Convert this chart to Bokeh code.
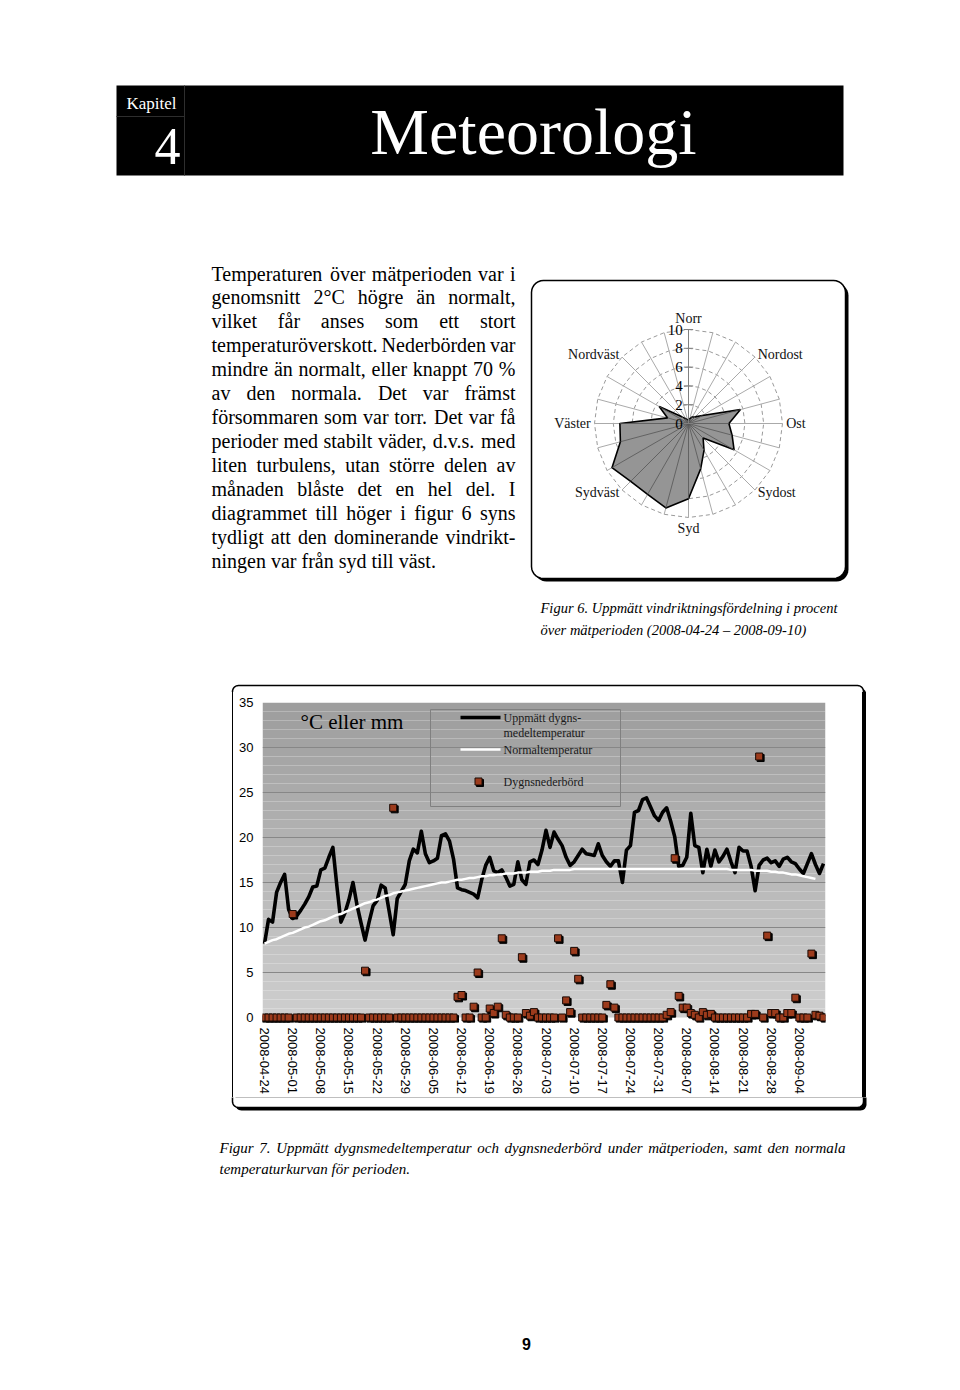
import numpy as np
import pandas as pd
from bokeh.plotting import figure
from bokeh.models import Range1d, FixedTicker, ColumnDataSource, Spacer, Div
from bokeh.layouts import row, column
from bokeh.core.properties import value
from bokeh.transform import dodge
from bokeh.embed import file_html
from bokeh.resources import INLINE

# ------------------------------------------------------------------ data
wind_dirs = ["Norr", "", "", "Nordost", "", "", "Ost", "", "", "Sydost", "", "",
             "Syd", "", "", "Sydväst", "", "", "Väster", "", "", "Nordväst", "", ""]
wind_pct = [0.3, 0.5, 0.8, 1.0, 1.7, 5.7, 4.3, 4.8, 5.6, 2.2, 3.3, 5.0,
            8.0, 9.3, 8.7, 8.7, 9.4, 7.5, 7.3, 2.3, 3.6, 1.0, 0.6, 0.4]
radar_ticks = [0, 2, 4, 6, 8, 10]

dates = [str(d.date()) for d in pd.date_range("2008-04-24", "2008-09-10")]
day = list(range(len(dates)))

temp_measured = [
    8.2, 10.9, 10.6, 13.9, 15.0, 15.9, 12.0, 11.0, 11.3, 11.9,
    12.6, 13.4, 14.5, 14.6, 16.4, 16.6, 17.8, 18.9, 14.6, 10.6,
    11.6, 13.1, 15.0, 12.5, 10.5, 8.6, 10.6, 12.4, 13.0, 14.7,
    14.4, 11.8, 9.2, 13.2, 14.0, 14.8, 17.4, 18.7, 18.3, 20.7,
    18.2, 17.2, 17.4, 17.7, 20.2, 20.4, 19.6, 17.6, 14.4, 14.2,
    14.1, 13.9, 13.7, 13.3, 15.3, 16.9, 17.8, 16.3, 16.1, 16.4,
    15.6, 14.6, 14.8, 17.3, 15.3, 14.8, 17.3, 17.5, 17.0, 18.6,
    20.8, 18.9, 20.6, 19.8, 19.1, 17.8, 16.9, 17.3, 18.0, 18.7,
    18.2, 18.1, 18.0, 19.3, 18.0, 17.3, 16.8, 17.4, 17.4, 15.0,
    18.6, 19.1, 22.8, 23.0, 24.2, 24.4, 23.4, 22.4, 21.9, 22.8,
    23.3, 21.8, 20.1, 16.8, 16.9, 17.8, 22.7, 19.1, 18.9, 16.1,
    18.7, 16.8, 18.6, 17.3, 17.9, 18.7, 17.3, 16.1, 18.9, 18.5,
    18.5, 16.8, 14.1, 16.9, 17.5, 17.7, 17.2, 17.4, 16.8, 17.6,
    17.8, 17.3, 17.1, 16.5, 16.0, 17.1, 18.2, 17.0, 16.0, 17.1]

temp_normal = [
    8.2, 8.4, 8.6, 8.7, 8.9, 9.1, 9.3, 9.4, 9.6, 9.8,
    10.0, 10.1, 10.3, 10.5, 10.7, 10.8, 11.0, 11.2, 11.4, 11.5,
    11.7, 11.9, 12.1, 12.3, 12.5, 12.7, 12.8, 13.0, 13.1, 13.3,
    13.5, 13.6, 13.8, 13.9, 14.0, 14.1, 14.2, 14.3, 14.4, 14.5,
    14.6, 14.7, 14.8, 14.9, 15.0, 15.0, 15.1, 15.2, 15.3, 15.3,
    15.4, 15.5, 15.5, 15.6, 15.7, 15.7, 15.8, 15.8, 15.9, 15.9,
    16.0, 16.0, 16.0, 16.1, 16.1, 16.1, 16.2, 16.2, 16.2, 16.3,
    16.3, 16.3, 16.4, 16.4, 16.4, 16.4, 16.4, 16.5, 16.5, 16.5,
    16.5, 16.5, 16.5, 16.5, 16.5, 16.5, 16.5, 16.5, 16.5, 16.5,
    16.5, 16.5, 16.5, 16.5, 16.5, 16.5, 16.5, 16.5, 16.5, 16.5,
    16.5, 16.5, 16.5, 16.5, 16.5, 16.5, 16.5, 16.5, 16.5, 16.5,
    16.5, 16.5, 16.5, 16.5, 16.5, 16.5, 16.4, 16.4, 16.4, 16.4,
    16.4, 16.4, 16.3, 16.3, 16.3, 16.3, 16.2, 16.2, 16.1, 16.1,
    16.0, 15.9, 15.9, 15.8, 15.7, 15.6, 15.5, 15.4, float("nan"), float("nan")]

precip = [
    0, 0, 0, 0, 0, 0, 0, 11.5, 0, 0,
    0, 0, 0, 0, 0, 0, 0, 0, 0, 0,
    0, 0, 0, 0, 0, 5.2, 0, 0, 0, 0,
    0, 0, 23.3, 0, 0, 0, 0, 0, 0, 0,
    0, 0, 0, 0, 0, 0, 0, 0, 2.3, 2.5,
    0, 0, 1.2, 5.0, 0, 0, 1.0, 0.5, 1.2, 8.8,
    0.3, 0, 0, 0, 6.7, 0.5, 0.2, 0.6, 0, 0,
    0, 0, 0, 8.8, 0, 1.9, 0.6, 7.4, 4.3, 0,
    0, 0, 0, 0, 0, 1.4, 3.7, 1.1, 0, 0,
    0, 0, 0, 0, 0, 0, 0, 0, 0, 0,
    0.3, 0.6, 17.7, 2.4, 1.1, 1.1, 0.5, 0.3, 0, 0.6,
    0.3, 0.4, 0, 0, 0, 0, 0, 0, 0, 0,
    0, 0.4, 0.4, 29.0, 0, 9.1, 0.5, 0.5, 0, 0,
    0.5, 0.5, 2.2, 0, 0, 0, 7.1, 0.3, 0.2, 0]

tick_days = day[::7]
tick_labels = dates[::7]
y_ticks = [0, 5, 10, 15, 20, 25, 30, 35]

paragraph = [
    "Temperaturen över mätperioden var i",
    "genomsnitt 2°C högre än normalt,",
    "vilket får anses som ett stort",
    "temperaturöverskott. Nederbörden var",
    "mindre än normalt, eller knappt 70 %",
    "av den normala. Det var främst",
    "försommaren som var torr. Det var få",
    "perioder med stabilt väder, d.v.s. med",
    "liten turbulens, utan större delen av",
    "månaden blåste det en hel del. I",
    "diagrammet till höger i figur 6 syns",
    "tydligt att den dominerande vindrikt-",
    "ningen var från syd till väst.",
]
caption6 = ["Figur 6. Uppmätt vindriktningsfördelning i procent",
            "över mätperioden (2008-04-24  –  2008-09-10)"]
caption7 = ["Figur 7. Uppmätt dygnsmedeltemperatur och dygnsnederbörd under mätperioden, samt den normala",
            "temperaturkurvan för perioden."]

# ------------------------------------------------------------------ helpers
SERIF = "Liberation Serif"
SANS = "Liberation Sans"

ROMAN = {" ": 250, ",": 250, ".": 250, "-": 333, "%": 833, "(": 333, ")": 333, "°": 400, "–": 500,
         "A": 722, "B": 667, "C": 667, "D": 722, "E": 611, "F": 556, "G": 722, "H": 722, "I": 333,
         "J": 389, "K": 722, "L": 611, "M": 889, "N": 722, "O": 722, "P": 556, "R": 667, "S": 556,
         "T": 611, "U": 722, "V": 722, "W": 944,
         "a": 444, "b": 500, "c": 444, "d": 500, "e": 444, "f": 333, "g": 500, "h": 500, "i": 278,
         "j": 278, "k": 500, "l": 278, "m": 778, "n": 500, "o": 500, "p": 500, "q": 500, "r": 333,
         "s": 389, "t": 278, "u": 500, "v": 500, "w": 722, "x": 500, "y": 500, "z": 444,
         "å": 444, "ä": 444, "ö": 500}
ITALIC = dict(ROMAN)
ITALIC.update({"a": 500, "f": 278, "k": 444, "m": 722, "r": 389, "v": 444, "w": 667, "x": 444,
               "y": 444, "z": 389, "ä": 500, "å": 500, "F": 611, "T": 556})


def text_w(s, fs, table):
    return sum(table.get(c, 500) for c in s) * fs / 1000.0


def page_fig(x0, x1, y0, y1):
    p = figure(width=x1 - x0, height=y1 - y0, x_range=Range1d(x0, x1), y_range=Range1d(y1, y0),
               x_axis_type=None, y_axis_type=None, toolbar_location=None,
               output_backend="svg", min_border=0)
    p.outline_line_color = None
    p.background_fill_color = "white"
    p.border_fill_color = "white"
    return p


def put(p, x, y, s, fs, font=SERIF, style="normal", align="left", baseline="middle", color="black"):
    p.text(x=[x], y=[y], text=[s], text_font=value(font), text_font_size=f"{fs}px",
           text_font_style=style, text_align=align, text_baseline=baseline, text_color=color)


def justified(p, line, x0, x1, y, fs, table, style="normal"):
    words = line.split()
    ws = np.array([text_w(w, fs, table) for w in words])
    gap = (x1 - x0 - ws.sum()) / (len(words) - 1)
    xs = x0 + np.concatenate([[0.0], np.cumsum(ws[:-1] + gap)])
    p.text(x=list(xs[:-1]), y=[y] * (len(words) - 1), text=words[:-1], text_font=value(SERIF),
           text_font_size=f"{fs}px", text_font_style=style, text_align="left",
           text_baseline="middle", text_color="black")
    put(p, x1, y, words[-1], fs, style=style, align="right")


def rrect(x0, y0, x1, y1, r, n=8):
    xs, ys = [], []
    for cx_, cy_, a0, a1 in [(x1 - r, y1 - r, 0, 90), (x0 + r, y1 - r, 90, 180),
                             (x0 + r, y0 + r, 180, 270), (x1 - r, y0 + r, 270, 360)]:
        for a in np.linspace(np.radians(a0), np.radians(a1), n):
            xs.append(cx_ + r * np.cos(a))
            ys.append(cy_ + r * np.sin(a))
    return xs, ys


def chart_box(p):
    xs, ys = rrect(235, 688, 866, 1110, 6)
    p.patch(xs, ys, fill_color="black", line_color=None)
    xs, ys = rrect(232, 685, 863, 1107, 6)
    p.patch(xs, ys, fill_color="white", line_color="black", line_width=1.5)


# ------------------------------------------------------------------ header
top = page_fig(0, 960, 0, 255)
top.quad(left=[116], right=[843], top=[85], bottom=[175], fill_color="black", line_color=None)
top.segment(x0=[184, 116], y0=[85, 116], x1=[184, 184], y1=[175, 116], line_color="#2e2e2e", line_width=1)
put(top, 151, 103, "Kapitel", 17, align="center", color="white")
put(top, 167, 146, "4", 52, align="center", color="white")
put(top, 533, 131, "Meteorologi", 66, align="center", color="white")

# ------------------------------------------------------------------ paragraph
ptxt = page_fig(0, 525, 255, 598)
for i, line in enumerate(paragraph):
    y = 273 + i * 23.92
    if i == len(paragraph) - 1:
        put(ptxt, 211, y, line, 20)
    else:
        justified(ptxt, line, 211, 515, y, 20, ROMAN)

# ------------------------------------------------------------------ radar
S = 9.4           # px per percent unit
CX, CY = 688, 423  # page position of radar centre
rad = figure(width=330, height=343,
             x_range=Range1d((525 - CX) / S, (855 - CX) / S),
             y_range=Range1d(-(598 - CY) / S, (CY - 255) / S),
             x_axis_type=None, y_axis_type=None, toolbar_location=None,
             output_backend="svg", min_border=0)
rad.outline_line_color = None
rad.background_fill_color = "white"
rad.border_fill_color = "white"


def px(x):
    return (x - CX) / S


def py(y):
    return (CY - y) / S


xs, ys = rrect(px(534), py(581), px(848), py(283), 12 / S)
rad.patch(xs, ys, fill_color="black", line_color=None)
xs, ys = rrect(px(531), py(578), px(845), py(280), 12 / S)
rad.patch(xs, ys, fill_color="white", line_color="black", line_width=1.5)

ang = np.radians(np.arange(len(wind_pct)) * 360.0 / len(wind_pct))
rmax = radar_ticks[-1]
ring_xs = [list(r * np.sin(np.append(ang, ang[0]))) for r in radar_ticks[1:]]
ring_ys = [list(r * np.cos(np.append(ang, ang[0]))) for r in radar_ticks[1:]]
rad.multi_line(ring_xs, ring_ys, line_color="#9a9a9a", line_width=1, line_dash="4 3")
rad.segment(x0=0, y0=0, x1=rmax * np.sin(ang), y1=rmax * np.cos(ang), line_color="#aaaaaa", line_width=1)

wx = np.array(wind_pct) * np.sin(ang)
wy = np.array(wind_pct) * np.cos(ang)
rad.patch(list(wx), list(wy), fill_color="#959595", line_color="black", line_width=1.6)
rad.segment(x0=0, y0=0, x1=wx, y1=wy, line_color="#555555", line_width=0.8)

rad.segment(x0=[0], y0=[0], x1=[0], y1=[rmax], line_color="#808080", line_width=1)
rad.segment(x0=-0.5, y0=radar_ticks, x1=0.5, y1=radar_ticks, line_color="#808080", line_width=1)
rad.text(x=-0.6, y=radar_ticks, text=[str(t) for t in radar_ticks], text_font=value(SERIF),
         text_font_size="15px", text_align="right", text_baseline="middle", text_color="black")

LR = 10.4
for a, lab in zip(np.degrees(ang), wind_dirs):
    if not lab:
        continue
    lx, ly = LR * np.sin(np.radians(a)), LR * np.cos(np.radians(a))
    if a == 0:
        al, bl = "center", "bottom"
    elif a == 180:
        al, bl = "center", "top"
    elif a < 180:
        al, bl = "left", "middle"
    else:
        al, bl = "right", "middle"
    put(rad, lx, ly, lab, 14, align=al, baseline=bl, color="#111111")

rspace = Spacer(width=105, height=343)

# ------------------------------------------------------------------ middle strip (caption 6 + box top)
mid = page_fig(0, 960, 598, 692)
for i, line in enumerate(caption6):
    put(mid, 540, 607 + i * 22, line, 14.5, style="italic")
chart_box(mid)

# ------------------------------------------------------------------ time series chart (y 692-1097)
left2 = Div(text="", width=233, height=405, margin=0,
            styles={"box-sizing": "border-box", "border-right": "1.5px solid #000",
                    "background": "#fff"})
right2 = Div(text="", width=98, height=405, margin=0,
             styles={"box-sizing": "border-box", "border-left": "4px solid #000",
                     "background": "#fff"})

pc = figure(width=629, height=405, x_range=Range1d(-0.5, 139.5), y_range=Range1d(-5 / 9, 35),
            toolbar_location=None, output_backend="svg",
            min_border_left=29, min_border_right=37, min_border_top=10, min_border_bottom=75)
pc.outline_line_color = None
pc.background_fill_color = "white"
pc.border_fill_color = "white"

bands = np.arange(35)
shade = np.linspace(206, 158, 35).astype(int)
pc.quad(left=-0.5, right=139.5, bottom=bands, top=bands + 1,
        fill_color=["#%02x%02x%02x" % (s, s, s) for s in shade], line_color=None, level="image")

pc.xgrid.visible = False
pc.ygrid.ticker = FixedTicker(ticks=y_ticks[1:])
pc.ygrid.grid_line_color = "#878787"
pc.ygrid.grid_line_width = 1

MARK = "#9c3b1c"
src = ColumnDataSource(dict(day=day, tm=temp_measured, tn=temp_normal, pr=precip))
pc.line("day", "tm", source=src, line_color="black", line_width=3.6, line_join="round")
pc.line("day", "tn", source=src, line_color="white", line_width=2.5)
pc.scatter(x=dodge("day", 0.37, range=pc.x_range), y=dodge("pr", -0.17, range=pc.y_range),
           source=src, marker="square", size=7, fill_color="black", line_color="black")
pc.scatter("day", "pr", source=src, marker="square", size=7, fill_color=MARK,
           line_color="#1a0a05", line_width=1)

pc.yaxis.ticker = FixedTicker(ticks=y_ticks)
pc.xaxis.ticker = FixedTicker(ticks=tick_days)
pc.xaxis.major_label_overrides = {d: lab for d, lab in zip(tick_days, tick_labels)}
pc.xaxis.major_label_orientation = "vertical"
for ax in (pc.xaxis, pc.yaxis):
    ax.axis_line_color = None
    ax.major_tick_line_color = None
    ax.minor_tick_line_color = None
    ax.major_tick_out = 0
    ax.major_tick_in = 0
    ax.major_label_text_font = SANS
    ax.major_label_text_font_size = "13px"
    ax.major_label_text_color = "black"
pc.yaxis.major_label_standoff = 9
pc.xaxis.major_label_standoff = 5


def cx(x):
    return -0.5 + (x - 262) * 140.0 / 563.0


def cy(y):
    return (1017 - y) / 9.0


pc.quad(left=[cx(430)], right=[cx(620)], top=[cy(709)], bottom=[cy(806)],
        fill_color=None, line_color="#808080", line_width=1)
pc.segment(x0=[cx(460), cx(460)], y0=[cy(717), cy(749)], x1=[cx(500), cx(500)], y1=[cy(717), cy(749)],
           line_color=["black", "white"], line_width=[3.6, 2.5])
pc.scatter(x=[cx(479.5)], y=[cy(782.5)], marker="square", size=7, fill_color="black", line_color="black")
pc.scatter(x=[cx(478)], y=[cy(781)], marker="square", size=7, fill_color=MARK, line_color="#1a0a05")
pc.text(x=[cx(503)] * 4, y=[cy(717), cy(732), cy(749), cy(781)],
        text=["Uppmätt dygns-", "medeltemperatur", "Normaltemperatur", "Dygnsnederbörd"],
        text_font=value(SERIF), text_font_size="12px", text_align="left", text_baseline="middle",
        text_color="#1a1a1a")
put(pc, cx(300), cy(721), "°C eller mm", 21)

# ------------------------------------------------------------------ bottom strip
bot = page_fig(0, 960, 1097, 1390)
chart_box(bot)
justified(bot, caption7[0], 219, 845, 1147, 15, ITALIC, style="italic")
put(bot, 219, 1168, caption7[1], 15, style="italic")
put(bot, 526, 1343, "9", 16, font=SANS, style="bold", align="center")

layout = column(
    top,
    row(ptxt, rad, rspace, spacing=0),
    mid,
    row(left2, pc, right2, spacing=0),
    bot,
    spacing=0,
)

open("out.html", "w").write(file_html(layout, INLINE))
